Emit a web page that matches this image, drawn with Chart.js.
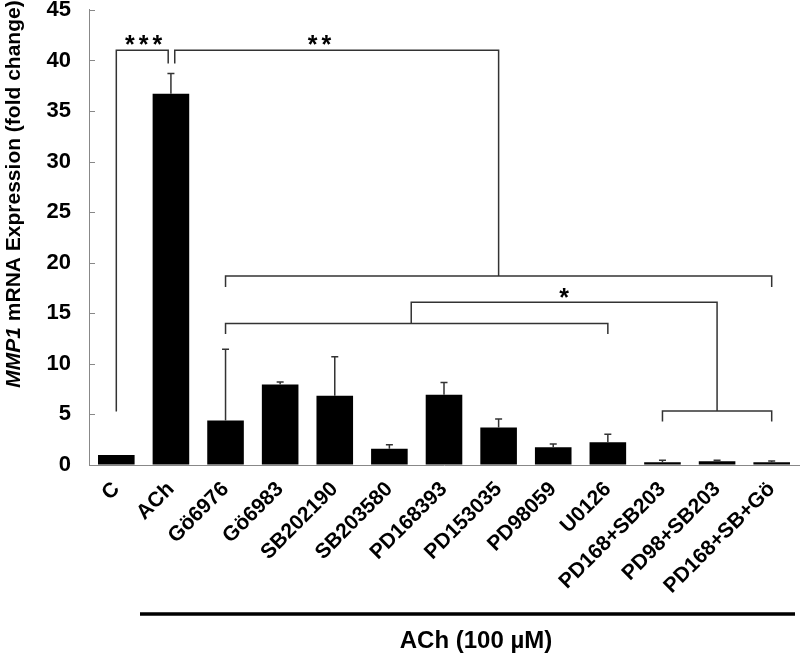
<!DOCTYPE html>
<html>
<head>
<meta charset="utf-8">
<script src="https://cdn.jsdelivr.net/npm/chart.js@4.4.0/dist/chart.umd.min.js"></script>
<style>
html,body{margin:0;padding:0;background:#fff;}
#wrap{width:800px;height:654px;}
</style>
</head>
<body>
<div id="wrap"><canvas id="myChart" width="800" height="654"></canvas></div>
<script>
'use strict';
const categories=['C','ACh','Gö6976','Gö6983','SB202190','SB203580','PD168393','PD153035','PD98059','U0126','PD168+SB203','PD98+SB203','PD168+SB+Gö'];
const foldChange=[1.0,36.7,4.4,7.95,6.85,1.6,6.95,3.7,1.75,2.25,0.27,0.37,0.27];
const errUp=[0,2.0,7.05,0.25,3.85,0.4,1.2,0.85,0.33,0.8,0.2,0.1,0.13];
const yTicks=[0,5,10,15,20,25,30,35,40,45];

// significance brackets (x in category index, y in fold change)
const brackets=[
  {x1:0,x2:0.95,y:41,leg1:5.3,leg2:39.7},
  {x1:1.07,x2:7,y:41,leg1:39.7,leg2:18.7},
  {x1:2,x2:12,y:18.7,leg1:17.6,leg2:17.6},
  {x1:2,x2:9,y:14,leg1:12.95,leg2:12.95},
  {x1:5.4,x2:11,y:16.1,leg1:14,leg2:5.35},
  {x1:10,x2:12,y:5.35,leg1:4.3,leg2:4.3}
];
const stars=[{x:0.5,y:42.1,text:'***'},{x:3.72,y:42.1,text:'**'},{x:8.2,y:17.1,text:'*'}];

const extras={
  id:'extras',
  afterDatasetsDraw(chart){
    const ctx=chart.ctx;
    const xs=chart.scales.x;
    const ys=chart.scales.y;
    const area=chart.chartArea;
    ctx.save();

    // inside tick marks
    ctx.strokeStyle='#888';
    ctx.lineWidth=1;
    for(let i=0;i<yTicks.length;i++){
      const y=Math.round(ys.getPixelForValue(yTicks[i]))+0.5;
      ctx.beginPath();
      ctx.moveTo(area.left,y);
      ctx.lineTo(area.left+6,y);
      ctx.stroke();
    }

    // error bars
    ctx.strokeStyle='#333';
    ctx.lineWidth=1.5;
    for(let i=0;i<foldChange.length;i++){
      if(!errUp[i]) continue;
      const x=xs.getPixelForValue(i);
      const y0=ys.getPixelForValue(foldChange[i]);
      const y1=ys.getPixelForValue(foldChange[i]+errUp[i]);
      ctx.beginPath();
      ctx.moveTo(x,y0);
      ctx.lineTo(x,y1);
      ctx.moveTo(x-3.5,y1);
      ctx.lineTo(x+3.5,y1);
      ctx.stroke();
    }

    // brackets
    ctx.strokeStyle='#333';
    ctx.lineWidth=1.5;
    brackets.forEach(b=>{
      const xa=xs.getPixelForValue(b.x1);
      const xb=xs.getPixelForValue(b.x2);
      const y=ys.getPixelForValue(b.y);
      ctx.beginPath();
      ctx.moveTo(xa,ys.getPixelForValue(b.leg1));
      ctx.lineTo(xa,y);
      ctx.lineTo(xb,y);
      ctx.lineTo(xb,ys.getPixelForValue(b.leg2));
      ctx.stroke();
    });

    // stars
    ctx.fillStyle='#000';
    ctx.font='bold 25px Arial, "Liberation Sans", sans-serif';
    ctx.textAlign='center';
    ctx.textBaseline='alphabetic';
    ctx.letterSpacing='4px';
    stars.forEach(s=>{
      ctx.fillText(s.text,xs.getPixelForValue(s.x)+2,ys.getPixelForValue(s.y)+14);
    });
    ctx.letterSpacing='0px';

    // ACh (100 µM) line and text
    ctx.strokeStyle='#000';
    ctx.lineWidth=3.5;
    ctx.beginPath();
    ctx.moveTo(140,614);
    ctx.lineTo(795,614);
    ctx.stroke();
    ctx.font='bold 24px Arial, "Liberation Sans", sans-serif';
    ctx.textBaseline='middle';
    ctx.fillText('ACh (100 µM)',476,641);

    // y axis title
    ctx.translate(14,194);
    ctx.rotate(-Math.PI/2);
    const italicFont='italic bold 21px Arial, "Liberation Sans", sans-serif';
    const boldFont='bold 21px Arial, "Liberation Sans", sans-serif';
    const part1='MMP1';
    const part2=' mRNA Expression (fold change)';
    ctx.font=italicFont;
    const w1=ctx.measureText(part1).width;
    ctx.font=boldFont;
    const w2=ctx.measureText(part2).width;
    const start=-(w1+w2)/2;
    ctx.textAlign='left';
    ctx.textBaseline='middle';
    ctx.font=italicFont;
    ctx.fillText(part1,start,0);
    ctx.font=boldFont;
    ctx.fillText(part2,start+w1,0);
    ctx.restore();
  }
};

const ctx=document.getElementById('myChart').getContext('2d');
const chart=new Chart(ctx,{
  type:'bar',
  data:{
    labels:categories,
    datasets:[{
      label:'MMP1',
      data:foldChange,
      backgroundColor:'#000',
      borderWidth:0,
      barPercentage:0.67,
      categoryPercentage:1
    }]
  },
  options:{
    responsive:false,
    animation:false,
    devicePixelRatio:1,
    layout:{padding:{left:0,right:1,top:0,bottom:0}},
    plugins:{legend:{display:false},tooltip:{enabled:false}},
    scales:{
      x:{
        grid:{display:true,drawOnChartArea:false,drawTicks:true,tickLength:12,tickColor:'rgba(0,0,0,0)'},
        border:{display:true,color:'#888',width:1},
        ticks:{
          color:'#000',
          font:{family:'Arial, "Liberation Sans", sans-serif',size:21,weight:'bold'},
          minRotation:45,
          maxRotation:45,
          autoSkip:false,
          padding:0
        },
        afterFit(scale){scale.height=189;}
      },
      y:{
        min:0,
        max:45,
        grid:{display:true,drawOnChartArea:false,drawTicks:true,tickLength:18,tickColor:'rgba(0,0,0,0)'},
        border:{display:true,color:'#888',width:1},
        afterBuildTicks(scale){scale.ticks=yTicks.map(v=>({value:v}));},
        ticks:{
          color:'#000',
          font:{family:'Arial, "Liberation Sans", sans-serif',size:22,weight:'bold',lineHeight:0.9},
          padding:0
        },
        afterFit(scale){scale.width=89;}
      }
    }
  },
  plugins:[extras]
});
</script>
</body>
</html>
